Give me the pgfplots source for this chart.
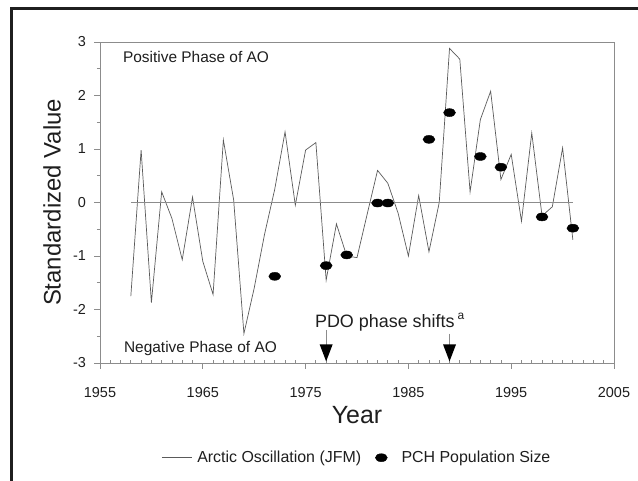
\documentclass[border=0pt]{standalone}
\usepackage{pgfplots}
\pgfplotsset{compat=1.18}
\usepackage{fontspec}
\setmainfont{Liberation Sans}
\definecolor{aoline}{HTML}{5A5A5A}
\definecolor{axisgray}{HTML}{8C8C8C}
\definecolor{txt}{HTML}{1E1E1E}
\pgfplotsset{
  longline/.style={legend image code/.code={%
      \draw[##1] (0bp,0bp) -- (30bp,0bp);
      \path (33bp,0bp);}},
  widemark/.style={legend image code/.code={%
      \path (0bp,0bp) (36bp,0bp);
      \draw[##1] plot coordinates {(18bp,0bp)};}},
}

% Arctic Oscillation (JFM), standardized
\pgfplotstableread{
year val
1958 -1.75
1959 0.98
1960 -1.87
1961 0.20
1962 -0.30
1963 -1.07
1964 0.10
1965 -1.10
1966 -1.72
1967 1.17
1968 0.05
1969 -2.45
1970 -1.60
1971 -0.60
1972 0.25
1973 1.32
1974 -0.05
1975 0.98
1976 1.12
1977 -1.45
1978 -0.40
1979 -1.00
1980 -1.03
1981 -0.21
1982 0.60
1983 0.36
1984 -0.20
1985 -1.00
1986 0.13
1987 -0.92
1988 0.00
1989 2.88
1990 2.68
1991 0.20
1992 1.55
1993 2.08
1994 0.43
1995 0.90
1996 -0.35
1997 1.30
1998 -0.25
1999 -0.08
2000 1.02
2001 -0.70
}\aodata

% PCH population size, standardized
\pgfplotstableread{
year val
1972 -1.38
1977 -1.18
1979 -0.98
1982 -0.01
1983 -0.01
1987 1.18
1989 1.68
1992 0.86
1994 0.66
1998 -0.27
2001 -0.48
}\pchdata

\begin{document}
\begin{tikzpicture}
\begin{axis}[
    scale only axis,
    width=514bp, height=321bp,
    xmin=1955, xmax=2005,
    ymin=-3, ymax=3,
    xtick={1955,1965,...,2005},
    ytick={-3,-2,...,3},
    minor x tick num=9,
    minor y tick num=1,
    xtick pos=bottom, ytick pos=left,
    tick align=outside,
    major tick length=5.5bp,
    minor tick length=3bp,
    axis line style={draw=axisgray, line width=0.9bp},
    every tick/.style={draw=axisgray, line width=0.8bp},
    minor x tick style={yshift=3bp},
    /pgf/number format/assume math mode=true,
    /pgf/number format/1000 sep={},
    tick label style={font=\fontsize{14.5}{14.5}\selectfont, text=txt},
    xticklabel style={yshift=-15bp},
    yticklabel style={xshift=-5bp},
    xlabel={Year},
    ylabel={Standardized Value},
    xlabel style={font=\fontsize{25}{25}\selectfont, text=txt,
        at={(axis description cs:0.5,-0.162)}, anchor=center},
    ylabel style={font=\fontsize{24}{24}\selectfont, text=txt,
        at={(axis description cs:-0.093,0.5)}, anchor=center},
    legend style={at={(0.5,-0.295)}, anchor=center, draw=none,
        fill=none, font=\fontsize{16}{16}\selectfont, text=txt,
        legend columns=-1},
    clip=false,
]
\addplot[aoline, line width=0.7bp, longline]
    table[x=year, y=val] {\aodata};
\addlegendentry{Arctic Oscillation (JFM)}
\addplot[axisgray, line width=1bp, forget plot]
    coordinates {(1958,0) (2001,0)};
\addplot[only marks, mark=*, mark size=4bp,
    mark options={fill=black, draw=black, xscale=1.5}, widemark]
    table[x=year, y=val] {\pchdata};
\addlegendentry{PCH Population Size}

\node[anchor=west, font=\fontsize{15.5}{15.5}\selectfont, text=txt]
    at (axis cs:1956.9,2.72) {Positive Phase of AO};
\node[anchor=west, font=\fontsize{15.5}{15.5}\selectfont, text=txt]
    at (axis cs:1957.0,-2.72) {Negative Phase of AO};
\node[anchor=west, font=\fontsize{18}{18}\selectfont, text=txt, inner sep=0pt]
    at (axis cs:1975.9,-2.23) {PDO phase shifts\,\raisebox{0.85ex}{\fontsize{12}{12}\selectfont a}};

\draw[axisgray, line width=0.9bp] (axis cs:1977,-2.38) -- (axis cs:1977,-2.7);
\fill[black] (axis cs:1977,-2.97) -- ++(-6.5bp,17bp) -- ++(13bp,0bp) -- cycle;
\draw[axisgray, line width=0.9bp] (axis cs:1989,-2.45) -- (axis cs:1989,-2.7);
\fill[black] (axis cs:1989,-2.97) -- ++(-6.5bp,17bp) -- ++(13bp,0bp) -- cycle;
\end{axis}
\draw[line width=3bp, black!88] (-88bp,-140bp) -- (-88bp,354bp) -- (560bp,354bp);
\pgfresetboundingbox
\path[use as bounding box] (-100bp,-118bp) rectangle (538bp,363bp);
\end{tikzpicture}
\end{document}
